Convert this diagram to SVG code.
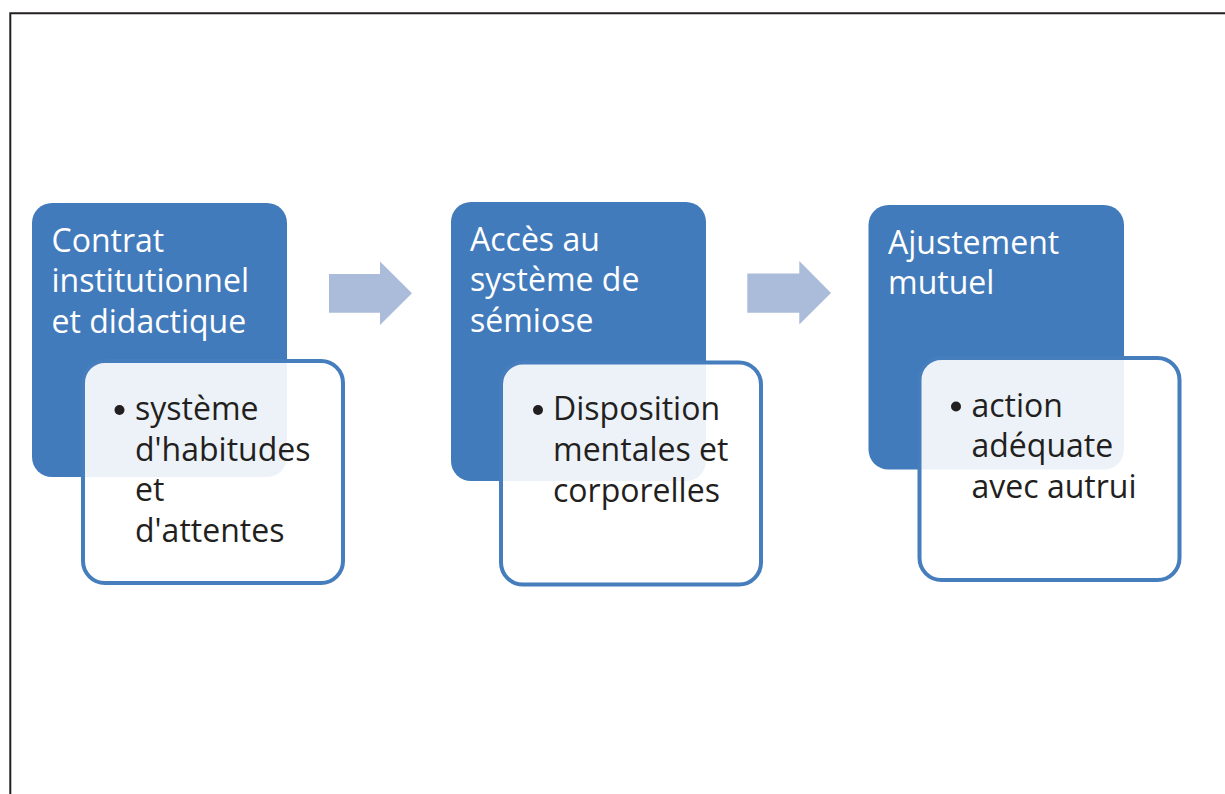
<svg xmlns="http://www.w3.org/2000/svg" width="1225" height="794" viewBox="0 0 1225 794">
<style>
.head{fill:#427BBB}
.sub{fill:#ffffff;fill-opacity:0.9;stroke:#457DBD;stroke-width:4}
.arrow{fill:#ABBCDA}
.ht{font-family:"Open Sans","Liberation Sans",sans-serif;font-size:32px;fill:#ffffff}
.bt{font-family:"Open Sans","Liberation Sans",sans-serif;font-size:32px;fill:#231F20}
.frame{stroke:#231F20;stroke-width:2}
</style>
<rect width="1225" height="794" fill="#ffffff"/>
<path class="frame" fill="none" d="M1225 13.3 H10.3 V794"/>
<g id="node1">
<rect class="head" x="32" y="203" width="255" height="274" rx="20"/>
<text class="ht" x="51.5"><tspan y="251.5">Contrat</tspan><tspan x="51.5" y="292">institutionnel</tspan><tspan x="51.5" y="333">et didactique</tspan></text>
<rect class="sub" x="83" y="361" width="260" height="222" rx="22"/>
<circle cx="119.5" cy="410" r="5" fill="#231F20"/>
<text class="bt" x="135"><tspan y="420">système</tspan><tspan x="135" y="460.5">d'habitudes</tspan><tspan x="135" y="501">et</tspan><tspan x="135" y="541.5">d'attentes</tspan></text>
</g>
<g id="node2">
<rect class="head" x="451" y="202" width="255" height="279" rx="20"/>
<text class="ht" x="470"><tspan y="251">Accès au</tspan><tspan x="470" y="291">système de</tspan><tspan x="470" y="331.5">sémiose</tspan></text>
<rect class="sub" x="501" y="362.5" width="260" height="222" rx="22"/>
<circle cx="538" cy="410" r="5" fill="#231F20"/>
<text class="bt" x="553"><tspan y="420">Disposition</tspan><tspan x="553" y="461">mentales et</tspan><tspan x="553" y="501.5">corporelles</tspan></text>
</g>
<g id="node3">
<rect class="head" x="868.5" y="205" width="255.5" height="264.5" rx="20"/>
<text class="ht" x="888"><tspan y="253.5">Ajustement</tspan><tspan x="888" y="294">mutuel</tspan></text>
<rect class="sub" x="919.5" y="358" width="260" height="222" rx="22"/>
<circle cx="956" cy="406.5" r="5" fill="#231F20"/>
<text class="bt" x="971.5"><tspan y="416.5">action</tspan><tspan x="971.5" y="456.5">adéquate</tspan><tspan x="971.5" y="497.5">avec autrui</tspan></text>
</g>
<g id="connectors">
<polygon class="arrow" points="329,274 380,274 380,261.5 412,293.3 380,325 380,312.7 329,312.7"/>
<polygon class="arrow" points="747.3,273.5 799.3,273.5 799.3,261 831,293 799.3,324.5 799.3,312.7 747.3,312.7"/>
</g>
</svg>
